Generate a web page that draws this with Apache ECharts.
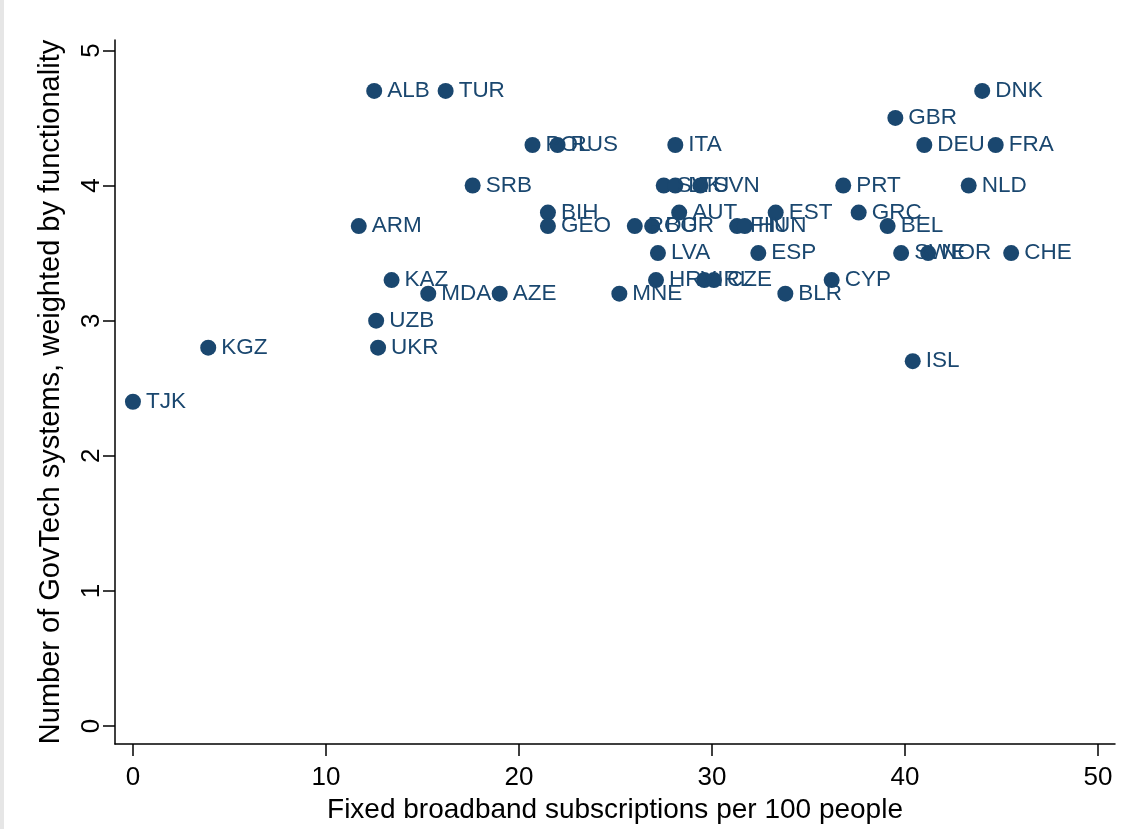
<!DOCTYPE html>
<html>
<head>
<meta charset="utf-8">
<script src="https://cdn.jsdelivr.net/npm/echarts@6/dist/echarts.min.js"></script>
<style>
html,body{margin:0;padding:0;background:#fff;}
#c{width:1142px;height:829px;box-sizing:border-box;border-left:4px solid #e6e6e6;}
</style>
</head>
<body>
<div id="c"></div>
<script>
const countries = ["ALB","TUR","DNK","GBR","POL","RUS","ITA","DEU","FRA","SRB","SVK","LTU","SVN","PRT","NLD","BIH","AUT","EST","GRC","ARM","GEO","ROU","BGR","FIN","HUN","BEL","LVA","ESP","SWE","NOR","CHE","KAZ","HRV","IRL","CZE","CYP","MDA","AZE","MNE","BLR","UZB","KGZ","UKR","ISL","TJK"];
const broadband = [12.5,16.2,44.0,39.5,20.7,22.0,28.1,41.0,44.7,17.6,27.5,28.1,29.4,36.8,43.3,21.5,28.3,33.3,37.6,11.7,21.5,26.0,26.9,31.3,31.7,39.1,27.2,32.4,39.8,41.2,45.5,13.4,27.1,29.6,30.1,36.2,15.3,19.0,25.2,33.8,12.6,3.9,12.7,40.4,0.0];
const govtech = [4.7,4.7,4.7,4.5,4.3,4.3,4.3,4.3,4.3,4.0,4.0,4.0,4.0,4.0,4.0,3.8,3.8,3.8,3.8,3.7,3.7,3.7,3.7,3.7,3.7,3.7,3.5,3.5,3.5,3.5,3.5,3.3,3.3,3.3,3.3,3.3,3.2,3.2,3.2,3.2,3.0,2.8,2.8,2.7,2.4];
const xTicks = [0,10,20,30,40,50];
const yTicks = [0,1,2,3,4,5];
const xTitle = "Fixed broadband subscriptions per 100 people";
const yTitle = "Number of GovTech systems, weighted by functionality";

const navy = "#1a476f";
const data = countries.map((n,i)=>({name:n, value:[broadband[i], govtech[i]]}));
const chart = echarts.init(document.getElementById('c'), null, {renderer:'canvas'});
const fam = "'Liberation Sans', Arial, sans-serif";
const axisCommon = {
  axisLine:{show:true, onZero:false, lineStyle:{color:'#000', width:1.5}},
  axisTick:{show:true, inside:false, length:12, lineStyle:{color:'#000', width:1.5}},
  splitLine:{show:false}
};
chart.setOption({
  animation:false,
  backgroundColor:'#fff',
  grid:{left:111, right:27, top:40, bottom:84, containLabel:false},
  xAxis:Object.assign({}, axisCommon, {
    type:'value', min:-0.93, max:50.88,
    axisTick:Object.assign({}, axisCommon.axisTick, {customValues:xTicks}),
    axisLabel:{customValues:xTicks, color:'#000', fontSize:26, fontFamily:fam, margin:21},
    name:xTitle, nameLocation:'middle', nameGap:52,
    nameTextStyle:{color:'#000', fontSize:28, fontFamily:fam}
  }),
  yAxis:Object.assign({}, axisCommon, {
    type:'value', min:-0.133, max:5.077,
    axisTick:Object.assign({}, axisCommon.axisTick, {customValues:yTicks}),
    axisLabel:{customValues:yTicks, color:'#000', fontSize:26, fontFamily:fam, rotate:90, margin:10},
    name:yTitle, nameLocation:'middle', nameGap:50, nameRotate:90,
    nameTextStyle:{color:'#000', fontSize:29, fontFamily:fam}
  }),
  series:[{
    type:'scatter',
    data:data,
    symbol:'circle',
    symbolSize:16,
    itemStyle:{color:navy, opacity:1},
    label:{show:true, position:'right', distance:5, formatter:'{b}', color:navy, fontSize:22.5, fontFamily:fam}
  }]
});
</script>
</body>
</html>
